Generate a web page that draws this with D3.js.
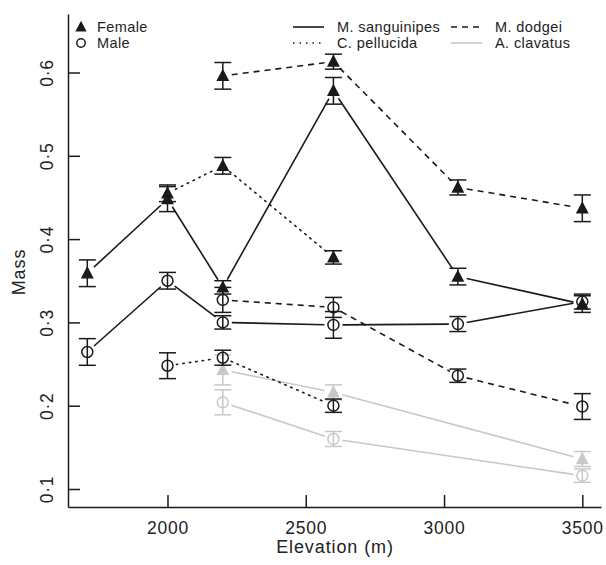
<!DOCTYPE html>
<html>
<head>
<meta charset="utf-8">
<script src="https://cdn.jsdelivr.net/npm/d3@7"></script>
<style>
  body { margin: 0; background: #fff; }
  svg text { font-family: "Liberation Sans", Arial, sans-serif; fill: #222; }
</style>
</head>
<body>
<div id="chart"></div>
<script>
// values (mean mass, error half-width)
var sangElev = [1710, 2000, 2200, 2600, 3050, 3500];
var sangFemale = [0.359, 0.448, 0.342, 0.578, 0.355, 0.322];
var sangFemaleErr = [0.016, 0.015, 0.008, 0.016, 0.01, 0.01];
var sangMale = [0.2645, 0.35, 0.30, 0.297, 0.298, 0.325];
var sangMaleErr = [0.016, 0.01, 0.008, 0.016, 0.009, 0.009];

var dodgeiElev = [2200, 2600, 3050, 3500];
var dodgeiFemale = [0.596, 0.613, 0.462, 0.437];
var dodgeiFemaleErr = [0.016, 0.009, 0.009, 0.016];
var dodgeiMale = [0.327, 0.318, 0.236, 0.199];
var dodgeiMaleErr = [0.015, 0.012, 0.008, 0.0155];

var pellElev = [2000, 2200, 2600];
var pellFemale = [0.455, 0.488, 0.378];
var pellFemaleErr = [0.01, 0.01, 0.008];
var pellMale = [0.248, 0.2576, 0.200];
var pellMaleErr = [0.0155, 0.009, 0.008];

var clavElev = [2200, 2600, 3500];
var clavFemale = [0.243, 0.216, 0.136];
var clavFemaleErr = [0.018, 0.009, 0.009];
var clavMale = [0.204, 0.160, 0.116];
var clavMaleErr = [0.015, 0.009, 0.008];

var xTicks = [2000, 2500, 3000, 3500];
var yTicks = [0.1, 0.2, 0.3, 0.4, 0.5, 0.6];

var black = "#1a1a1a";
var grey = "#c8c8c8";

// species -> line style, drawn grey first so black sits on top
var species = [
  { name: "A. clavatus", elev: clavElev, f: clavFemale, fe: clavFemaleErr, m: clavMale, me: clavMaleErr, color: grey, dash: null },
  { name: "M. sanguinipes", elev: sangElev, f: sangFemale, fe: sangFemaleErr, m: sangMale, me: sangMaleErr, color: black, dash: null },
  { name: "M. dodgei", elev: dodgeiElev, f: dodgeiFemale, fe: dodgeiFemaleErr, m: dodgeiMale, me: dodgeiMaleErr, color: black, dash: "6,5" },
  { name: "C. pellucida", elev: pellElev, f: pellFemale, fe: pellFemaleErr, m: pellMale, me: pellMaleErr, color: black, dash: "1.5,5" }
];

var width = 606, height = 565;
var svg = d3.select("#chart").append("svg")
  .attr("width", width)
  .attr("height", height);

var x = d3.scaleLinear().domain([1640.2, 3567.6]).range([68, 601]);
var y = d3.scaleLinear().domain([0.07839, 0.67023]).range([507, 14]);

// axes, ticks pointing inward
var yAxis = svg.append("g")
  .attr("transform", "translate(68,0)")
  .call(d3.axisLeft(y).tickValues(yTicks).tickSize(-12).tickSizeOuter(0)
    .tickFormat(d => d3.format(".1f")(d).replace(".", "\u00b7")));
yAxis.selectAll("text")
  .attr("x", 0).attr("y", 0).attr("dy", null)
  .attr("transform", "translate(-15,0) rotate(-90)")
  .attr("text-anchor", "middle")
  .style("font-size", "17.5px")
  .style("letter-spacing", "0.8px");

var xAxis = svg.append("g")
  .attr("transform", "translate(0,507)")
  .call(d3.axisBottom(x).tickValues(xTicks).tickSize(-12).tickSizeOuter(0)
    .tickFormat(d3.format("d")));
xAxis.selectAll("text")
  .attr("y", 27).attr("dy", null)
  .style("font-size", "17.5px")
  .style("letter-spacing", "0.8px");

svg.selectAll(".domain, .tick line")
  .attr("stroke", black)
  .attr("stroke-width", 1.5);
svg.selectAll(".tick text").attr("fill", "#222").style("font-family", "'Liberation Sans', Arial, sans-serif");

svg.append("text")
  .attr("transform", "translate(25,272) rotate(-90)")
  .attr("text-anchor", "middle")
  .style("font-size", "18px")
  .style("letter-spacing", "0.9px")
  .text("Mass");

svg.append("text")
  .attr("x", 335).attr("y", 553)
  .attr("text-anchor", "middle")
  .style("font-size", "18px")
  .style("letter-spacing", "0.9px")
  .text("Elevation (m)");

var gap = 9;
var capHalf = 8.5;

function trianglePath(cx, cy, s) {
  return "M" + cx + "," + (cy - s * 0.62) + "L" + (cx + s * 0.56) + "," + (cy + s * 0.45) +
    "L" + (cx - s * 0.56) + "," + (cy + s * 0.45) + "Z";
}

function drawSeries(g, sp, vals, errs, sex) {
  var pts = sp.elev.map((e, i) => ({ px: x(e), py: y(vals[i]), v: vals[i], err: errs[i] }));

  // connecting segments with gaps round the points
  for (var i = 0; i < pts.length - 1; i++) {
    var a = pts[i], b = pts[i + 1];
    var dx = b.px - a.px, dy = b.py - a.py;
    var len = Math.sqrt(dx * dx + dy * dy);
    if (len <= 2 * gap) continue;
    var ux = dx / len, uy = dy / len;
    g.append("line")
      .attr("x1", a.px + ux * gap).attr("y1", a.py + uy * gap)
      .attr("x2", b.px - ux * gap).attr("y2", b.py - uy * gap)
      .attr("stroke", sp.color)
      .attr("stroke-width", 1.6)
      .attr("stroke-dasharray", sp.dash)
      .attr("stroke-linecap", sp.dash && sp.dash.startsWith("1.5") ? "round" : "butt");
  }

  pts.forEach(p => {
    var top = y(p.v + p.err), bot = y(p.v - p.err);
    g.append("line")
      .attr("x1", p.px).attr("x2", p.px)
      .attr("y1", top).attr("y2", bot)
      .attr("stroke", sp.color).attr("stroke-width", 1.5);
    [top, bot].forEach(yy => {
      g.append("line")
        .attr("x1", p.px - capHalf).attr("x2", p.px + capHalf)
        .attr("y1", yy).attr("y2", yy)
        .attr("stroke", sp.color).attr("stroke-width", 1.5);
    });
    if (sex === "f") {
      g.append("path")
        .attr("d", trianglePath(p.px, p.py, 11.5))
        .attr("fill", sp.color);
    } else {
      g.append("circle")
        .attr("cx", p.px).attr("cy", p.py).attr("r", 5.5)
        .attr("fill", "none")
        .attr("stroke", sp.color).attr("stroke-width", 1.5);
    }
  });
}

species.forEach(sp => {
  var g = svg.append("g").attr("class", "species");
  drawSeries(g, sp, sp.m, sp.me, "m");
  drawSeries(g, sp, sp.f, sp.fe, "f");
});

// legend: sex symbols
var legSex = svg.append("g");
legSex.append("path").attr("d", trianglePath(81, 27, 10)).attr("fill", black);
legSex.append("circle").attr("cx", 81).attr("cy", 43).attr("r", 4.2)
  .attr("fill", "none").attr("stroke", black).attr("stroke-width", 1.5);
legSex.append("text").attr("x", 97).attr("y", 32).style("font-size", "14.5px")
  .style("letter-spacing", "0.4px").text("Female");
legSex.append("text").attr("x", 97).attr("y", 48).style("font-size", "14.5px")
  .style("letter-spacing", "0.4px").text("Male");

// legend: species line styles
var legSpecies = [
  { name: "M. sanguinipes", color: black, dash: null, lx: 293, row: 0 },
  { name: "C. pellucida", color: black, dash: "1.5,5", lx: 293, row: 1 },
  { name: "M. dodgei", color: black, dash: "6,5", lx: 451, row: 0 },
  { name: "A. clavatus", color: grey, dash: null, lx: 451, row: 1 }
];
legSpecies.forEach(d => {
  var cy = 27 + d.row * 16;
  svg.append("line")
    .attr("x1", d.lx).attr("x2", d.lx + 31)
    .attr("y1", cy).attr("y2", cy)
    .attr("stroke", d.color).attr("stroke-width", 1.6)
    .attr("stroke-dasharray", d.dash);
  svg.append("text")
    .attr("x", d.lx + 44).attr("y", cy + 5)
    .style("font-size", "14.5px")
    .style("letter-spacing", "0.4px")
    .text(d.name);
});
</script>
</body>
</html>
